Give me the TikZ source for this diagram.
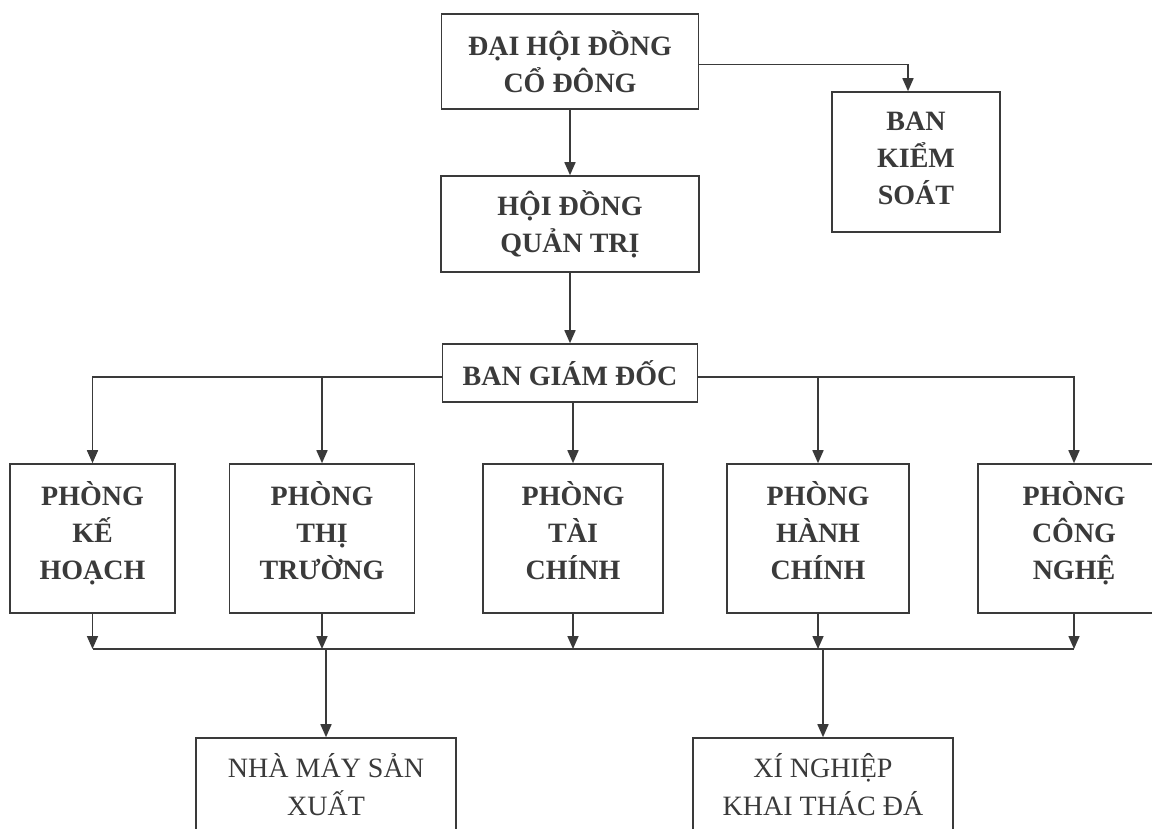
\documentclass[tikz,border=0pt]{standalone}
\usepackage{fontspec}
\setmainfont{Liberation Serif}
\usetikzlibrary{arrows.meta}
\definecolor{ink}{HTML}{3A3A3A}

\begin{document}
\begin{tikzpicture}[x=1pt, y=-1pt,
    unit/.style={draw=ink, line width=1.6pt, align=center, text=ink, inner sep=0pt,
      font=\fontsize{28}{37}\selectfont\bfseries},
    dept/.style={unit, minimum height=149pt, text depth=17pt},
    plant/.style={unit, font=\fontsize{28}{38}\selectfont},
    link/.style={draw=ink, line width=1.6pt, -{Triangle[length=13pt, width=11pt]}},
    wire/.style={draw=ink, line width=1.6pt}]
  % Page
  \clip (0, 0) rectangle (1152, 828);
  \fill[white] (0, 0) rectangle (1152, 828);

  % Top level
  \node[unit, minimum width=257pt, minimum height=95pt] (dhdcd) at (570, 61.5)
    {ĐẠI HỘI ĐỒNG\\CỔ ĐÔNG};
  \node[unit, minimum width=168pt, minimum height=140pt, text depth=8pt] (bks) at (916, 162)
    {BAN\\KIỂM\\SOÁT};
  \node[unit, minimum width=258pt, minimum height=96pt] (hdqt) at (570, 224)
    {HỘI ĐỒNG\\QUẢN TRỊ};
  \node[unit, minimum width=255pt, minimum height=58pt] (bgd) at (570, 373)
    {BAN GIÁM ĐỐC};

  % Departments
  \node[dept, minimum width=165pt] (p1) at (92.5, 538.5) {PHÒNG\\KẾ\\HOẠCH};
  \node[dept, minimum width=185pt] (p2) at (322, 538.5) {PHÒNG\\THỊ\\TRƯỜNG};
  \node[dept, minimum width=180pt] (p3) at (573, 538.5) {PHÒNG\\TÀI\\CHÍNH};
  \node[dept, minimum width=182pt] (p4) at (818, 538.5) {PHÒNG\\HÀNH\\CHÍNH};
  \node[dept, minimum width=192pt] (p5) at (1074, 538.5) {PHÒNG\\CÔNG\\NGHỆ};

  % Units below
  \node[plant, minimum width=260pt, minimum height=94pt] (nm) at (326, 785)
    {NHÀ MÁY SẢN\\XUẤT};
  \node[plant, minimum width=260pt, minimum height=94pt] (xn) at (823, 785)
    {XÍ NGHIỆP\\KHAI THÁC ĐÁ};

  % Top connectors
  \draw[link] (dhdcd) -- (hdqt);
  \draw[link] ([yshift=-3pt]dhdcd.east) -| ([xshift=-8pt]bks.north);
  \draw[link] (hdqt.south) -- (hdqt.south |- bgd.north);

  % Board to departments
  \draw[link] ([yshift=-4pt]bgd.west) -| (p1.north);
  \draw[link] ([yshift=-4pt]bgd.west) -| (p2.north);
  \draw[link] (bgd.south -| p3.north) -- (p3.north);
  \draw[link] ([yshift=-4pt]bgd.east) -| (p4.north);
  \draw[link] ([yshift=-4pt]bgd.east) -| (p5.north);

  % Bus
  \coordinate (bus) at (0, 649);
  \foreach \p in {p1, p2, p3, p4, p5}
    \draw[link] (\p.south) -- (\p.south |- bus);
  \draw[wire] (p1.south |- bus) -- (p5.south |- bus);
  \draw[link] (nm.north |- bus) -- (nm.north);
  \draw[link] (xn.north |- bus) -- (xn.north);
\end{tikzpicture}
\end{document}
